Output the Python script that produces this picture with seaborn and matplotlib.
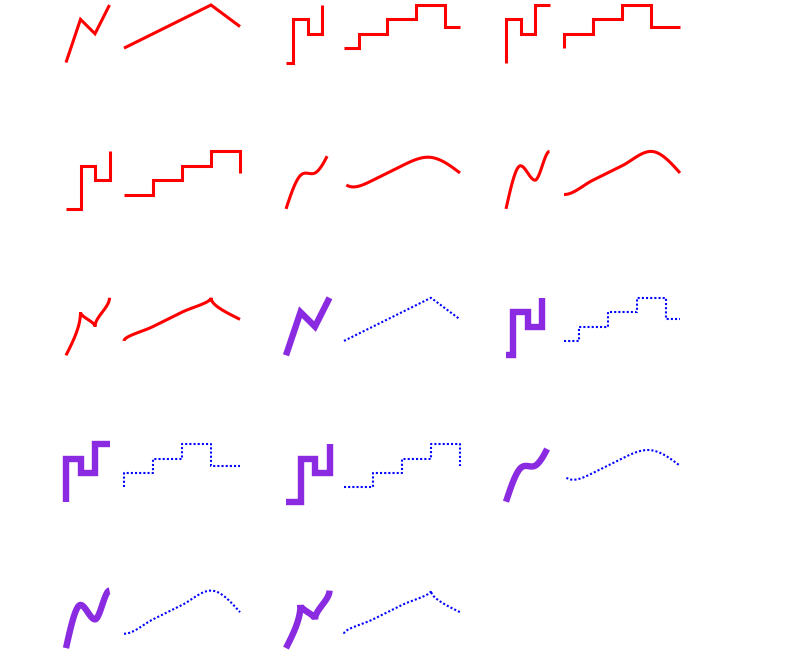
import numpy as np
import matplotlib
matplotlib.use("Agg")
import matplotlib.pyplot as plt
import seaborn as sns

# two series per panel
small_x = [0, 1, 2, 3]
small_y = [0, 3, 2, 4]
big_x = [4, 6, 8, 10, 12]
big_y = [1, 2, 3, 4, 2.5]

# interpolation modes, drawn once in red and once in purple/blue
curves = ["linear", "step", "step-before", "step-after", "basis", "monotone-x", "monotone-y"]
themes = ["red", "purple"]


def bez(p0, p1, p2, p3, n=30):
    t = np.linspace(0, 1, n)[:, None]
    return (1 - t) ** 3 * p0 + 3 * (1 - t) ** 2 * t * p1 + 3 * (1 - t) * t ** 2 * p2 + t ** 3 * p3


def sgn(v):
    return -1.0 if v < 0 else 1.0


def basis(x, y):
    P = np.column_stack([x, y]).astype(float)
    n = len(P)
    cur = (5 * P[0] + P[1]) / 6
    pts = [P[0][None], cur[None]]
    triples = [(P[i - 2], P[i - 1], P[i]) for i in range(2, n)] + [(P[n - 2], P[n - 1], P[n - 1])]
    for a, b, c in triples:
        end = (a + 4 * b + c) / 6
        pts.append(bez(cur, (2 * a + b) / 3, (a + 2 * b) / 3, end))
        cur = end
    pts.append(P[-1][None])
    return np.vstack(pts)


def monotone(x, y, gap):
    # monotone cubic over the whole run, the segment after index `gap` left out
    x = np.asarray(x, float)
    y = np.asarray(y, float)
    n = len(x)
    h = np.diff(x)
    s = np.diff(y) / h
    t = np.zeros(n)
    for i in range(1, n - 1):
        h0, h1, s0, s1 = h[i - 1], h[i], s[i - 1], s[i]
        p = (s0 * h1 + s1 * h0) / (h0 + h1)
        t[i] = (sgn(s0) + sgn(s1)) * min(abs(s0), abs(s1), 0.5 * abs(p))
    t[0] = (3 * s[0] - t[1]) / 2
    t[-1] = (3 * s[-1] - t[-2]) / 2
    segs = []
    for i in range(n - 1):
        dx = (x[i + 1] - x[i]) / 3
        p0 = np.array([x[i], y[i]])
        p3 = np.array([x[i + 1], y[i + 1]])
        segs.append(bez(p0, p0 + [dx, dx * t[i]], p3 - [dx, dx * t[i + 1]], p3))
    return [np.vstack(segs[:gap]), np.vstack(segs[gap + 1:])]


def step_mid(x, y, tail):
    xs, ys = [x[0]], [y[0]]
    for i in range(1, len(x)):
        m = (x[i - 1] + x[i]) / 2
        xs += [m, m]
        ys += [y[i - 1], y[i]]
    if tail:
        xs.append(x[-1])
        ys.append(y[-1])
    return np.column_stack([xs, ys])


def step_pre(x, y):
    xs, ys = [x[0]], [y[0]]
    for i in range(1, len(x)):
        xs += [x[i - 1], x[i]]
        ys += [y[i], y[i]]
    return np.column_stack([xs, ys])


def step_post(x, y):
    xs, ys = [x[0]], [y[0]]
    for i in range(1, len(x)):
        xs += [x[i], x[i]]
        ys += [y[i - 1], y[i]]
    return np.column_stack([xs, ys])


def pieces(mode):
    all_x = small_x + big_x
    all_y = small_y + big_y
    g = len(small_x) - 1
    if mode == "linear":
        return [np.column_stack([small_x, small_y]), np.column_stack([big_x, big_y])]
    if mode == "step":
        return [step_mid(small_x, small_y, False), step_mid(big_x, big_y, True)]
    if mode == "step-before":
        return [step_pre(small_x, small_y), step_pre(big_x, big_y)]
    if mode == "step-after":
        return [step_post(small_x, small_y), step_post(big_x, big_y)]
    if mode == "basis":
        a = basis(small_x, small_y)[:-1]
        b = basis(all_x[g:], all_y[g:])[31:]
        return [a, b]
    if mode == "monotone-x":
        return monotone(all_x, all_y, g)
    a, b = monotone(all_y, all_x, g)
    return [a[:, ::-1], b[:, ::-1]]


styles = {
    "red": [dict(color="#ff0000", linewidth=2.2), dict(color="#ff0000", linewidth=2.2)],
    "purple": [dict(color="#8a2be2", linewidth=4.6),
               dict(color="#0000ff", linewidth=1.5, linestyle=(0, (1, 1)))],
}

fig = plt.figure(figsize=(8, 6.54), dpi=100)
W, H = 800, 654
left0, col_w, ax_w = 66, 220, 174
base0, row_h, ax_h = 62.5, 146.4, 57.5

panels = [(th, c) for th in themes for c in curves]
for k, (th, mode) in enumerate(panels):
    r, c = divmod(k, 3)
    base = base0 + r * row_h
    ax = fig.add_axes([(left0 + c * col_w) / W, (H - base) / H, ax_w / W, ax_h / H])
    for j, pts in enumerate(pieces(mode)):
        sns.lineplot(x=pts[:, 0], y=pts[:, 1], sort=False, estimator=None, ax=ax,
                     solid_joinstyle="miter", solid_capstyle="butt", dash_capstyle="butt",
                     clip_on=False, **styles[th][j])
    ax.set_xlim(0, 12)
    ax.set_ylim(0, 4)
    ax.axis("off")

fig.savefig("out.png", dpi=100)
